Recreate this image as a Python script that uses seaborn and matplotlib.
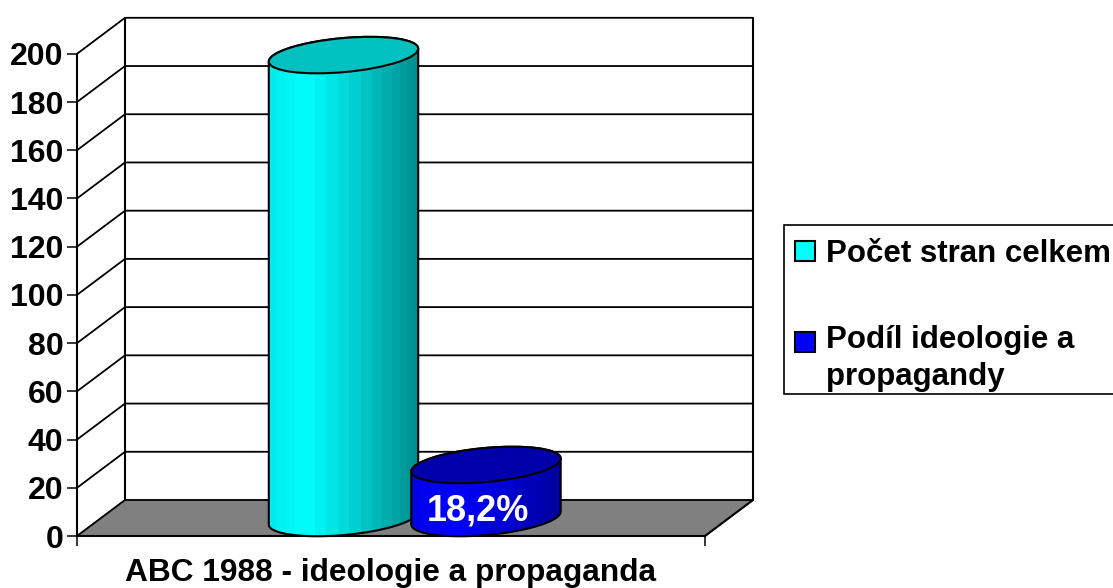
import numpy as np
import pandas as pd
import seaborn as sns
import matplotlib
matplotlib.use("Agg")
import matplotlib.pyplot as plt
from matplotlib.patches import Patch, PathPatch, Ellipse, Rectangle
from matplotlib.path import Path
from matplotlib.transforms import IdentityTransform

categories = ["Počet stran celkem", "Podíl ideologie a\npropagandy"]
values = [192, 22]
bar_label = "18,2%"
yticks = [0, 20, 40, 60, 80, 100, 120, 140, 160, 180, 200]
xlabel = "ABC 1988 - ideologie a propaganda"
body_colors = ["#00FFFF", "#0000FF"]
top_colors = ["#00C0C0", "#0000AA"]

W, H = 1113, 588
# front plane of the box in pixels, and the depth offset
FL, FR, F0, F200 = 77, 705, 536, 53.8
DX, DY = 48, 36
BAR_C0, BAR_C1 = 343.5, 486
BAR_W = 149
ELL_W, ELL_H, ELL_ANG = 150, 34, 5.2
# room under zero so the cylinder bases are not cut by the axes
Y_LOW = -20

sns.set_style("white")
plt.rcParams["font.family"] = ["Liberation Sans", "DejaVu Sans"]
plt.rcParams["font.weight"] = "bold"

fig = plt.figure(figsize=(W / 100, H / 100), dpi=100)


def px_axes(l, r, b, t):
    return fig.add_axes([l / W, 1 - b / H, (r - l) / W, (b - t) / H])


# canvas in pixels for the box itself
canvas = fig.add_axes([0, 0, 1, 1], zorder=0)
canvas.set_xlim(0, W)
canvas.set_ylim(H, 0)
canvas.axis("off")
canvas.fill([FL, FL + DX, FR + DX, FR], [F0, F0 - DY, F0 - DY, F0], color="#808080", zorder=1)
px_unit = (F0 - F200) / 200
for v in yticks:
    y = F0 - v * px_unit
    canvas.plot([FL, FL + DX, FR + DX], [y, y - DY, y - DY], color="k", lw=1.3, zorder=2)
canvas.plot([FL + DX, FL + DX], [F0 - DY, F200 - DY], color="k", lw=1.5, zorder=2)
canvas.plot([FR + DX, FR + DX], [F0 - DY, F200 - DY], color="k", lw=1.5, zorder=2)
canvas.plot([FR, FR + DX], [F0, F0 - DY], color="k", lw=1.5, zorder=2)
# legend box, runs off the right edge like the original
canvas.add_patch(Rectangle((784, 225), W, 169, fc="white", ec="k", lw=1.2, zorder=2))

# front axes, ticks and labels
front = px_axes(FL, FR, F0, F200)
front.set_zorder(1)
front.patch.set_visible(False)
front.set_xlim(0, 1)
front.set_ylim(0, 200)
front.set_yticks(yticks)
front.set_xticks([0, 1])
front.set_xticklabels(["", ""])
front.set_xlabel(xlabel, fontsize=22.8, fontweight="bold", labelpad=5.5, color="k")
front.tick_params(axis="y", labelsize=23, length=7, width=1.3, pad=2.8, left=True, labelcolor="k")
front.tick_params(axis="x", length=7, width=1.3, bottom=True)
for s in ["top", "right"]:
    front.spines[s].set_visible(False)
for s in ["left", "bottom"]:
    front.spines[s].set_color("k")
    front.spines[s].set_linewidth(1.5)

# bars live half way back in the box
mid = px_axes(FL + DX / 2, FR + DX / 2, F0 - DY / 2 - Y_LOW * px_unit, F200 - DY / 2)
mid.set_zorder(2)
mid.patch.set_visible(False)
df = pd.DataFrame({"cat": categories, "val": values})
step = BAR_C1 - BAR_C0
sns.barplot(data=df, x="cat", y="val", hue="cat", palette=body_colors, dodge=False,
            width=BAR_W / step, legend=False, ax=mid, saturation=1)
mid.set_xlim((FL + DX / 2 - BAR_C0) / step, (FR + DX / 2 - BAR_C0) / step)
mid.set_ylim(Y_LOW, 200)
mid.axis("off")

bars = [p for c in mid.containers for p in c]


def ellipse_points(cx, cy, t):
    a, b = ELL_W / 2, ELL_H / 2
    th = np.radians(ELL_ANG)
    return np.c_[cx + a * np.cos(t) * np.cos(th) - b * np.sin(t) * np.sin(th),
                 cy + a * np.cos(t) * np.sin(th) + b * np.sin(t) * np.cos(th)]


def shade_strip(color, stops, n=300, facets=20):
    # faceted cylinder shading, narrower facets towards the edges
    xs = np.linspace(-1, 1, n)
    theta = np.arcsin(xs)
    edge = np.pi / facets
    q = np.round(theta / edge) * edge
    xq = (np.sin(q) + 1) / 2
    k = np.interp(xq, [0, 0.25, 0.6, 1], stops)
    rgb = np.array(matplotlib.colors.to_rgb(color))
    return (k[:, None] * rgb)[None, :, :]


shades = [[0.92, 1.0, 0.8, 0.55], [0.9, 1.0, 0.85, 0.6]]

for i, bar in enumerate(bars):
    z = 3 + i * 3
    xc = bar.get_x() + bar.get_width() / 2
    top_px = mid.transData.transform((xc, bar.get_height()))
    base_px = mid.transData.transform((xc, 0))
    # silhouette: lower arc of the base, upper arc of the top
    th = np.radians(ELL_ANG)
    t_ext = np.arctan2(-ELL_H * np.sin(th), ELL_W * np.cos(th))
    lower = ellipse_points(base_px[0], base_px[1], np.linspace(np.pi + t_ext, 2 * np.pi + t_ext, 60))
    upper = ellipse_points(top_px[0], top_px[1], np.linspace(t_ext, np.pi + t_ext, 60))
    verts = np.vstack([lower, upper, lower[:1]])
    body = Path(verts, closed=True)

    bar.set_zorder(z)
    bar.set_edgecolor("none")
    bar.set_clip_path(body, IdentityTransform())

    im = mid.imshow(shade_strip(body_colors[i], shades[i]), aspect="auto", zorder=z,
                    extent=(bar.get_x(), bar.get_x() + bar.get_width(), Y_LOW, bar.get_height() + 15),
                    interpolation="nearest")
    im.set_clip_path(body, IdentityTransform())

    mid.add_patch(PathPatch(body, transform=IdentityTransform(), fc="none", ec="k", lw=1.5,
                            zorder=z + 1, clip_on=False))
    mid.add_patch(Ellipse(top_px, ELL_W, ELL_H, angle=ELL_ANG, transform=IdentityTransform(),
                          fc=top_colors[i], ec="k", lw=1.5, zorder=z + 1, clip_on=False))

mid.set_xlim((FL + DX / 2 - BAR_C0) / step, (FR + DX / 2 - BAR_C0) / step)
mid.set_ylim(Y_LOW, 200)

mid.annotate(bar_label, xy=(1, values[1]), xytext=(-8, -46), textcoords="offset pixels",
             ha="center", va="center", color="white", fontsize=26, fontweight="bold",
             zorder=20, annotation_clip=False)

# legend
handles = [Patch(fc=c, ec="k", lw=1.5) for c in body_colors]
leg = fig.legend(handles, categories, loc="upper left", bbox_to_anchor=(782 / W, 1 - 226 / H),
                 borderaxespad=0, frameon=False,
                 handlelength=0.62, handleheight=0.6, handletextpad=0.37, labelcolor="k",
                 labelspacing=1.78, borderpad=0.42,
                 prop={"family": "Liberation Sans", "weight": "bold", "size": 22.5})
leg.set_zorder(30)
leg.get_texts()[1].set_linespacing(1.3)
# swatch sits on the first line of the wrapped label
second = leg.get_patches()[1]
second.set_y(second.get_y() + 12)

fig.savefig("out.png", dpi=100)
